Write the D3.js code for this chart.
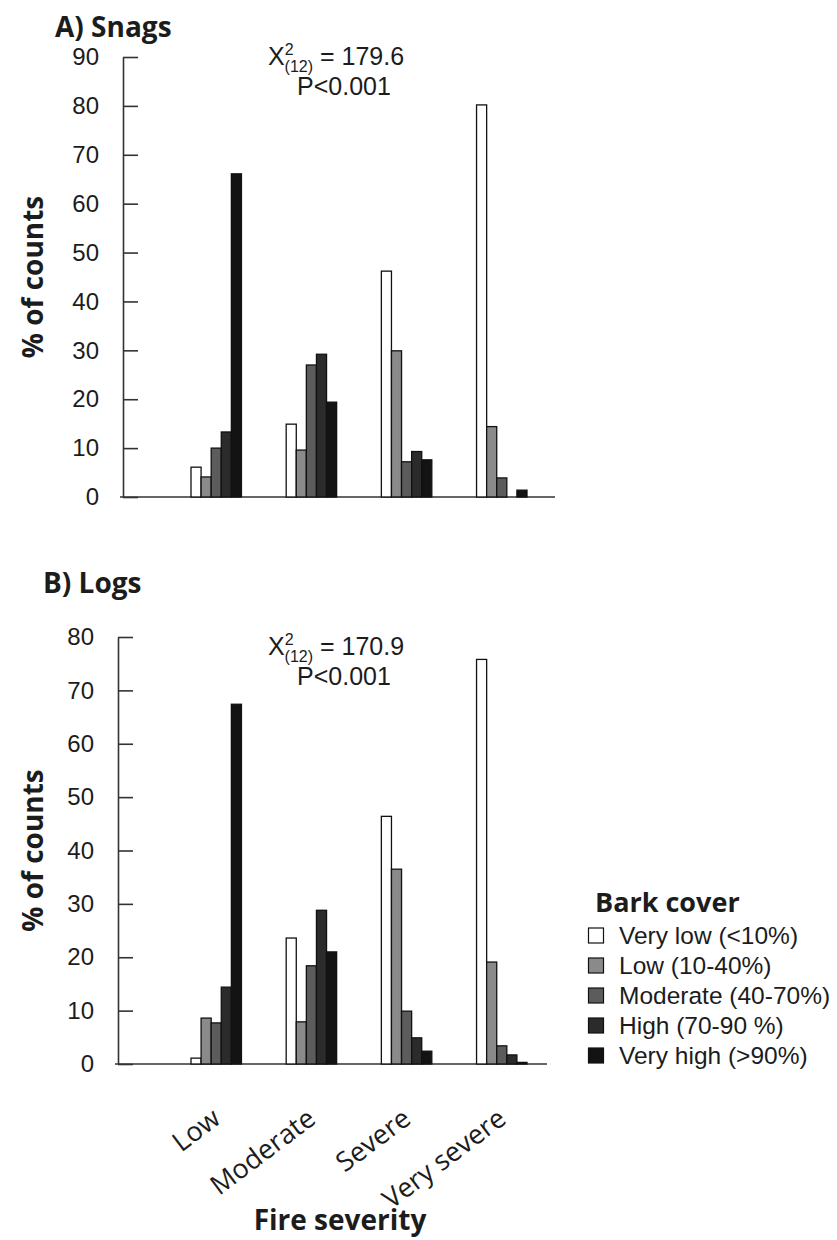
<!DOCTYPE html>
<html>
<head>
<meta charset="utf-8">
<style>
  body { margin: 0; background: #fff; }
  svg { display: block; }
</style>
</head>
<body>

<script src="https://cdn.jsdelivr.net/npm/d3@7"></script>
<script>

const width = 837;
const height = 1240;

// categories and classes
const severity = ['Low', 'Moderate', 'Severe', 'Very severe'];
const barkClasses = ['Very low (<10%)', 'Low (10-40%)', 'Moderate (40-70%)', 'High (70-90 %)', 'Very high (>90%)'];
const barkColors = ['#ffffff', '#8a8a8a', '#5c5c5c', '#2b2b2b', '#131313'];

// % of counts, one array per fire severity, in bark class order
const snagsLow = [6.1, 4.1, 10.0, 13.3, 66.1];
const snagsModerate = [14.9, 9.6, 27.0, 29.2, 19.4];
const snagsSevere = [46.2, 29.9, 7.2, 9.3, 7.6];
const snagsVerySevere = [80.2, 14.4, 3.9, 0, 1.4];

const logsLow = [1.1, 8.6, 7.7, 14.4, 67.4];
const logsModerate = [23.6, 7.9, 18.4, 28.8, 21.0];
const logsSevere = [46.4, 36.5, 9.9, 4.9, 2.4];
const logsVerySevere = [75.8, 19.1, 3.4, 1.7, 0.3];

const snagTicks = [0, 10, 20, 30, 40, 50, 60, 70, 80, 90];
const logTicks = [0, 10, 20, 30, 40, 50, 60, 70, 80];

const snagStats = { chi: '179.6', df: '(12)', p: 'P<0.001' };
const logStats = { chi: '170.9', df: '(12)', p: 'P<0.001' };

const titleFont = '"Open Sans", "DejaVu Sans", sans-serif';
const plainFont = '"Liberation Sans", Arial, sans-serif';
const ink = '#1c1c1c';

const svg = d3.select('body')
  .append('svg')
  .attr('width', width)
  .attr('height', height);

svg.append('rect').attr('width', width).attr('height', height).attr('fill', '#fff');

const x0 = d3.scaleBand().domain(severity).range([191, 527]).paddingInner(0.47).paddingOuter(0);
const x1 = d3.scaleBand().domain(barkClasses).range([0, x0.bandwidth()]).padding(0);

function drawPanel(p) {
  const g = svg.append('g');
  const y = d3.scaleLinear().domain([0, p.max]).range([p.base, p.top]);

  // title
  g.append('text')
    .attr('x', p.titleX).attr('y', p.titleY)
    .attr('font-family', titleFont).attr('font-weight', 700)
    .attr('font-size', 28).attr('fill', ink)
    .text(p.title);

  // y title
  g.append('text')
    .attr('transform', `translate(43,${(p.base + p.top) / 2}) rotate(-90)`)
    .attr('text-anchor', 'middle')
    .attr('font-family', titleFont).attr('font-weight', 700)
    .attr('font-size', 28).attr('fill', ink)
    .text('% of counts');

  // baseline
  g.append('line')
    .attr('x1', p.axisX - 3).attr('x2', p.axisEnd)
    .attr('y1', y(0)).attr('y2', y(0))
    .attr('stroke', '#333').attr('stroke-width', 1.6);

  // bars
  const rows = severity.map((s, i) => ({ cat: s, vals: p.values[i] }));
  const grp = g.selectAll('g.grp')
    .data(rows)
    .enter().append('g')
    .attr('class', 'grp')
    .attr('transform', d => `translate(${x0(d.cat)},0)`);

  grp.selectAll('rect')
    .data(d => d.vals.map((v, j) => ({ cls: barkClasses[j], v: v, j: j })).filter(d => d.v > 0))
    .enter().append('rect')
    .attr('x', d => x1(d.cls))
    .attr('width', x1.bandwidth())
    .attr('y', d => y(d.v))
    .attr('height', d => y(0) - y(d.v))
    .attr('fill', d => barkColors[d.j])
    .attr('stroke', '#111')
    .attr('stroke-width', 1.3);

  // y axis
  const ax = g.append('g')
    .attr('transform', `translate(${p.axisX},0)`)
    .call(d3.axisLeft(y).tickValues(p.ticks).tickSizeInner(-15).tickSizeOuter(0).tickPadding(24));
  ax.select('.domain').attr('stroke', '#333').attr('stroke-width', 1.6);
  ax.selectAll('.tick line').attr('stroke', '#333').attr('stroke-width', 1.6);
  ax.selectAll('.tick text')
    .attr('font-family', plainFont).attr('font-size', 24).attr('fill', ink);

  // chi-square annotation
  const t = g.append('text')
    .attr('x', p.statX).attr('y', p.statY)
    .attr('font-family', plainFont).attr('font-size', 25).attr('fill', ink);
  t.append('tspan').text('X');
  t.append('tspan').attr('dy', -10).attr('font-size', 16).text('2');
  t.append('tspan').attr('dx', -9).attr('dy', 17).attr('font-size', 16).text(p.stats.df);
  t.append('tspan').attr('dy', -7).text(' = ' + p.stats.chi);

  g.append('text')
    .attr('x', p.statX + 76).attr('y', p.statY + 30)
    .attr('text-anchor', 'middle')
    .attr('font-family', plainFont).attr('font-size', 25).attr('fill', ink)
    .text(p.stats.p);

  return y;
}

drawPanel({
  title: 'A) Snags', titleX: 55, titleY: 37,
  max: 90, base: 497, top: 57, ticks: snagTicks,
  axisX: 123, axisEnd: 555,
  values: [snagsLow, snagsModerate, snagsSevere, snagsVerySevere],
  stats: snagStats, statX: 268, statY: 65
});

drawPanel({
  title: 'B) Logs', titleX: 43, titleY: 593,
  max: 80, base: 1064, top: 637, ticks: logTicks,
  axisX: 118, axisEnd: 547,
  values: [logsLow, logsModerate, logsSevere, logsVerySevere],
  stats: logStats, statX: 268, statY: 655
});

// x category labels
svg.append('g').selectAll('text')
  .data(severity)
  .enter().append('text')
  .attr('transform', d => `translate(${x0(d) + x0.bandwidth() / 2 + 6},1122) rotate(-37)`)
  .attr('text-anchor', 'end')
  .attr('font-family', titleFont).attr('font-size', 27).attr('fill', ink)
  .text(d => d);

svg.append('text')
  .attr('x', 340).attr('y', 1230)
  .attr('text-anchor', 'middle')
  .attr('font-family', titleFont).attr('font-weight', 700)
  .attr('font-size', 28).attr('fill', ink)
  .text('Fire severity');

// legend
const legend = svg.append('g').attr('transform', 'translate(588,912)');
legend.append('text')
  .attr('x', 7).attr('y', 0)
  .attr('font-family', titleFont).attr('font-weight', 700)
  .attr('font-size', 27).attr('fill', ink)
  .text('Bark cover');

const item = legend.selectAll('g.item')
  .data(barkClasses)
  .enter().append('g')
  .attr('class', 'item')
  .attr('transform', (d, i) => `translate(0,${32 + i * 30})`);

item.append('rect')
  .attr('x', 0.5).attr('y', -16).attr('width', 15).attr('height', 15)
  .attr('fill', (d, i) => barkColors[i])
  .attr('stroke', '#111').attr('stroke-width', 1.2);

item.append('text')
  .attr('x', 31).attr('y', 0)
  .attr('font-family', plainFont).attr('font-size', 24.5).attr('fill', ink)
  .text(d => d);

</script>
</body>
</html>
